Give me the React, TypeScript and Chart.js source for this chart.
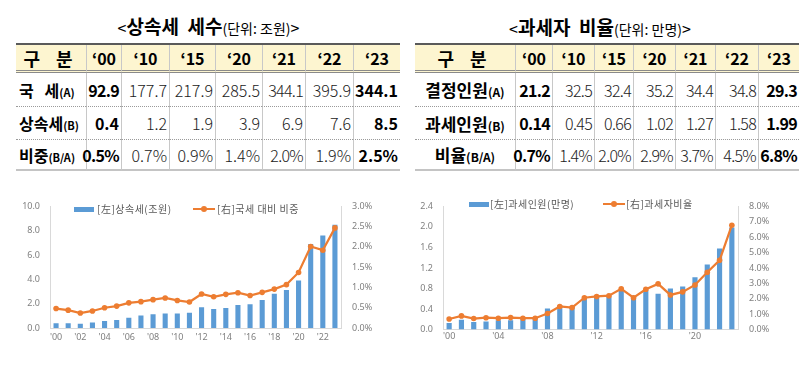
import React, { useEffect, useRef } from "react";
import { Chart, registerables } from "chart.js";
Chart.register(...registerables);

// ---------- data ----------
const years = ["'00","'01","'02","'03","'04","'05","'06","'07","'08","'09","'10","'11","'12","'13","'14","'15","'16","'17","'18","'19","'20","'21","'22","'23"];
const inheritanceTaxTrillion = [0.4,0.4,0.35,0.45,0.58,0.66,0.85,1.03,1.14,1.2,1.2,1.25,1.7,1.57,1.64,1.9,1.96,2.3,2.81,3.13,3.9,6.9,7.6,8.5];
const inheritanceShareOfNational = [0.48,0.44,0.37,0.42,0.5,0.54,0.62,0.65,0.7,0.74,0.68,0.64,0.84,0.77,0.83,0.87,0.8,0.88,0.96,1.07,1.37,2.01,1.92,2.47];
const taxedPersons10k = [0.13,0.19,0.15,0.16,0.18,0.18,0.2,0.2,0.41,0.47,0.45,0.6,0.65,0.65,0.77,0.66,0.77,0.7,0.8,0.84,1.02,1.27,1.58,1.99];
const taxedPersonRatio = [0.69,0.89,0.72,0.77,0.74,0.78,0.74,0.74,1.05,1.5,1.43,2.07,2.15,2.2,2.65,2.07,2.62,2.97,2.25,2.45,2.9,3.72,4.5,6.78];

const tableYears = ["‘00","‘10","‘15","‘20","‘21","‘22","‘23"];
const nationalTaxRow = ["92.9","177.7","217.9","285.5","344.1","395.9","344.1"];
const inheritanceTaxRow = ["0.4","1.2","1.9","3.9","6.9","7.6","8.5"];
const shareRow = ["0.5%","0.7%","0.9%","1.4%","2.0%","1.9%","2.5%"];
const decidedPersonsRow = ["21.2","32.5","32.4","35.2","34.4","34.8","29.3"];
const taxedPersonsRow = ["0.14","0.45","0.66","1.02","1.27","1.58","1.99"];
const ratioRow = ["0.7%","1.4%","2.0%","2.9%","3.7%","4.5%","6.8%"];

const BLUE = "#5B9BD5";
const ORANGE = "#ED7D31";
const TICK = "#808080";
const AXIS = "#d9d9d9";
const KR = "'Noto Sans CJK KR', 'Noto Sans', sans-serif";

// ---------- chart ----------
type Area = { left: number; right: number; top: number; bottom: number };
type ComboProps = {
  x: number; y: number;
  bars: number[]; line: number[];
  barLabel: string; lineLabel: string;
  yMax: number; yStep: number; y1Max: number; y1Step: number;
  every: number; area: Area; xPad: number;
  legend: { rect: number; text1: number; icon: number; text2: number; cy: number };
};

const W = 400, H = 156;

function ComboChart(p: ComboProps) {
  const ref = useRef<HTMLCanvasElement>(null);
  useEffect(() => {
    const a = p.area;
    const tickFont = { family: "'Noto Sans', sans-serif", size: 9 };
    const chart = new Chart(ref.current!, {
      type: "bar",
      data: {
        labels: years,
        datasets: [
          {
            type: "bar", label: p.barLabel, data: p.bars, backgroundColor: BLUE,
            yAxisID: "y", order: 2, categoryPercentage: 1, barPercentage: 0.42,
          } as any,
          {
            type: "line", label: p.lineLabel, data: p.line, borderColor: ORANGE,
            backgroundColor: ORANGE, borderWidth: 2.25, pointRadius: 2.8,
            pointBackgroundColor: ORANGE, pointBorderWidth: 0, tension: 0,
            yAxisID: "y1", order: 1,
          } as any,
        ],
      },
      options: {
        responsive: false,
        animation: false,
        layout: { autoPadding: false, padding: { top: a.top, left: 0, right: 0, bottom: 0 } },
        plugins: { legend: { display: false }, tooltip: { enabled: false } },
        scales: {
          x: {
            grid: { display: false, drawTicks: false },
            border: { display: true, color: AXIS },
            ticks: {
              autoSkip: false, maxRotation: 0, padding: p.xPad, color: TICK, font: tickFont,
              callback: (_v: any, i: number) => (i % p.every === 0 ? years[i] : ""),
            },
            afterFit: (s: any) => { s.height = H - a.bottom; },
          },
          y: {
            position: "left", min: 0, max: p.yMax,
            grid: { display: false, drawTicks: false },
            border: { display: true, color: AXIS },
            ticks: { stepSize: p.yStep, padding: 10, color: TICK, font: tickFont,
              callback: (v: any) => Number(v).toFixed(1) },
            afterFit: (s: any) => { s.width = a.left; },
          },
          y1: {
            position: "right", min: 0, max: p.y1Max,
            grid: { display: false, drawTicks: false },
            border: { display: true, color: AXIS },
            ticks: { stepSize: p.y1Step, padding: 11, color: TICK, font: tickFont,
              callback: (v: any) => Number(v).toFixed(1) + "%" },
            afterFit: (s: any) => { s.width = W - a.right; },
          },
        },
      } as any,
    });
    return () => chart.destroy();
  }, []);

  const lg = p.legend;
  const textStyle: React.CSSProperties = {
    position: "absolute", top: lg.cy - 8, height: 16, lineHeight: "16px",
    fontFamily: KR, fontSize: 10, letterSpacing: 0.5, color: "#595959", whiteSpace: "nowrap",
  };
  return (
    <div style={{ position: "absolute", left: p.x, top: p.y, width: W, height: H }}>
      <canvas ref={ref} width={W} height={H} style={{ display: "block", width: W, height: H }} />
      <div style={{ position: "absolute", left: lg.rect, top: lg.cy - 2.5, width: 20, height: 5, background: BLUE }} />
      <div style={{ ...textStyle, left: lg.text1 }}>{p.barLabel}</div>
      <div style={{ position: "absolute", left: lg.icon, top: lg.cy - 1.1, width: 22, height: 2.25, background: ORANGE }} />
      <div style={{ position: "absolute", left: lg.icon + 8, top: lg.cy - 3, width: 6, height: 6, borderRadius: 3, background: ORANGE }} />
      <div style={{ ...textStyle, left: lg.text2 }}>{p.lineLabel}</div>
    </div>
  );
}

// ---------- tables ----------
type Row = { label: string; suffix: string; values: string[] };
type TableProps = {
  x: number; y: number; cols: number[]; rows: Row[]; labelAlign: "flex-start" | "center";
  labelSize: number; suffixSize: number;
};
const rowHeights = [28, 34, 33, 31];
const rowBorders = ["3px double #8a8a8a", "1px dotted #9a9a9a", "1px dotted #9a9a9a", "2px solid #c4c4c4"];

function DataTable(t: TableProps) {
  const cell = (r: number, c: number, content: React.ReactNode, extra: React.CSSProperties = {}) => (
    <div key={r + "-" + c} style={{
      boxSizing: "border-box", display: "flex", alignItems: "center",
      borderBottom: rowBorders[r], borderLeft: c > 0 ? "1px solid #c8c8c8" : "none",
      background: r === 0 ? "#fdf5d0" : "transparent", whiteSpace: "nowrap", overflow: "visible",
      ...extra,
    }}>{content}</div>
  );
  const cells: React.ReactNode[] = [];
  cells.push(cell(0, 0, <span style={{ fontWeight: 700, fontSize: 18, letterSpacing: 6 }}>구 분</span>, { justifyContent: "center" }));
  tableYears.forEach((yr, i) => cells.push(cell(0, i + 1, <span style={{ fontWeight: 700, fontSize: 16 }}>{yr}</span>, { justifyContent: "center" })));
  t.rows.forEach((row, ri) => {
    cells.push(cell(ri + 1, 0,
      <span style={{ fontWeight: 700, fontSize: t.labelSize, whiteSpace: "pre" }}>
        {row.label}<span style={{ fontSize: t.suffixSize }}>{row.suffix}</span>
      </span>,
      { justifyContent: t.labelAlign, paddingLeft: t.labelAlign === "flex-start" ? 3 : 0 }));
    row.values.forEach((v, ci) => {
      const bold = ci === 0 || ci === row.values.length - 1;
      const tight = v.length >= 4 && t.cols[ci + 1] < 44;
      cells.push(cell(ri + 1, ci + 1,
        <span style={{ fontWeight: bold ? 700 : 300, fontSize: 16, letterSpacing: tight ? -0.7 : 0, color: bold ? "#000" : "#222" }}>{v}</span>,
        { justifyContent: "flex-end", paddingRight: 2 }));
    });
  });
  return (
    <div style={{
      position: "absolute", left: t.x, top: t.y, display: "grid",
      gridTemplateColumns: t.cols.map((c) => c + "px").join(" "),
      gridTemplateRows: rowHeights.map((h) => h + "px").join(" "),
      borderTop: "2px solid #5a5a5a", fontFamily: KR, color: "#000",
    }}>{cells}</div>
  );
}

function Title({ x, w, y, main, unit }: { x: number; w: number; y: number; main: string; unit: string }) {
  return (
    <div style={{ position: "absolute", left: x, top: y, width: w, textAlign: "center", fontFamily: KR, whiteSpace: "pre", lineHeight: "24px", color: "#000" }}>
      <span style={{ fontSize: 16 }}>&lt;</span>
      <span style={{ fontSize: 19, fontWeight: 700 }}>{main}</span>
      <span style={{ fontSize: 14 }}>{unit}</span>
      <span style={{ fontSize: 16 }}>&gt;</span>
    </div>
  );
}

export default function App() {
  return (
    <div style={{ position: "fixed", left: 0, top: 0, width: 800, height: 374, background: "#fff", overflow: "hidden" }}>
      <Title x={16} w={385} y={14} main={"상속세  세수"} unit={"(단위: 조원)"} />
      <Title x={500} w={200} y={15} main={"과세자  비율"} unit={"(단위: 만명)"} />
      <DataTable x={16} y={43} cols={[70, 35, 48, 46, 47, 43, 48, 47]} labelAlign="flex-start" labelSize={16} suffixSize={11}
        rows={[
          { label: "국   세", suffix: "(A)", values: nationalTaxRow },
          { label: "상속세", suffix: "(B)", values: inheritanceTaxRow },
          { label: "비중", suffix: "(B/A)", values: shareRow },
        ]} />
      <DataTable x={415} y={43} cols={[100, 37, 42, 39, 42, 40, 43, 41]} labelAlign="center" labelSize={17} suffixSize={12}
        rows={[
          { label: "결정인원", suffix: "(A)", values: decidedPersonsRow },
          { label: "과세인원", suffix: "(B)", values: taxedPersonsRow },
          { label: "비율", suffix: "(B/A)", values: ratioRow },
        ]} />
      <ComboChart x={0} y={190} bars={inheritanceTaxTrillion} line={inheritanceShareOfNational}
        barLabel="[左]상속세(조원)" lineLabel="[右]국세 대비 비중"
        yMax={10} yStep={2} y1Max={3} y1Step={0.5} every={2}
        area={{ left: 50, right: 341, top: 13, bottom: 138 }} xPad={4}
        legend={{ rect: 74, text1: 97, icon: 193, text2: 217, cy: 19 }} />
      <ComboChart x={400} y={190} bars={taxedPersons10k} line={taxedPersonRatio}
        barLabel="[左]과세인원(만명)" lineLabel="[右]과세자비율"
        yMax={2.4} yStep={0.4} y1Max={8} y1Step={1} every={4}
        area={{ left: 43, right: 338, top: 7, bottom: 141 }} xPad={1}
        legend={{ rect: 69, text1: 90, icon: 203, text2: 226, cy: 14 }} />
    </div>
  );
}
